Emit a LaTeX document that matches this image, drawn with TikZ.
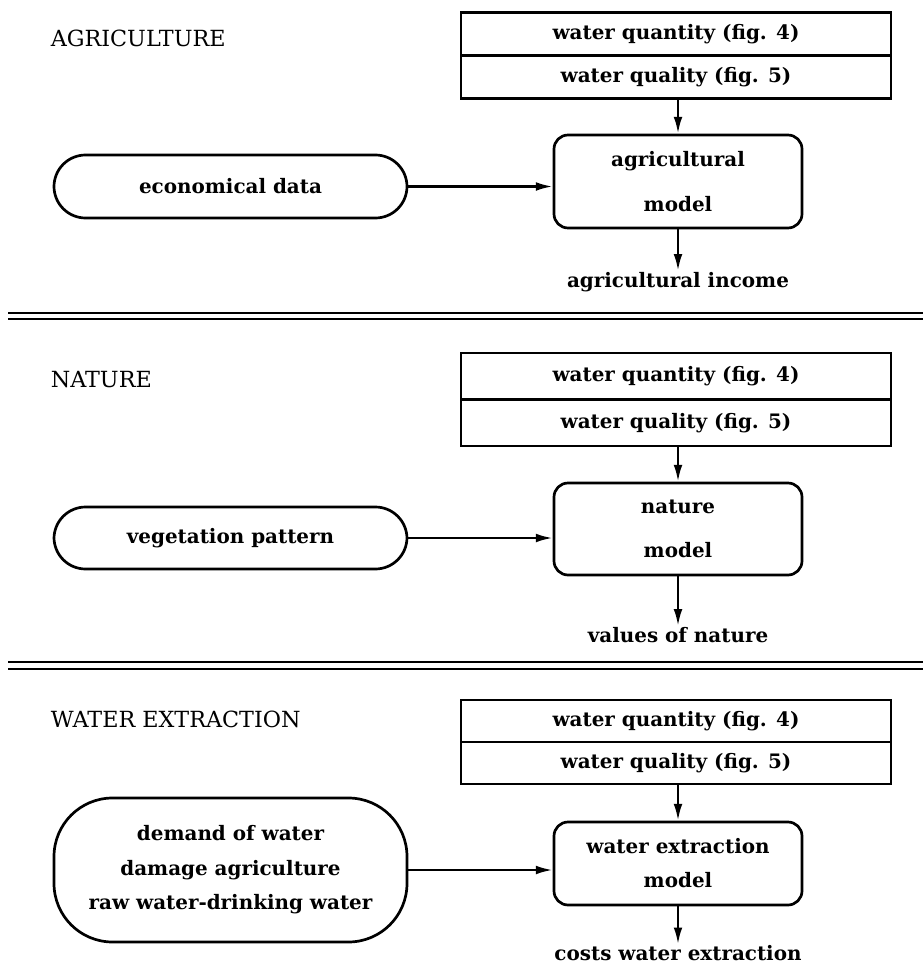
\documentclass[tikz,border=0pt]{standalone}
\usepackage{fontspec}
\setmainfont{DejaVu Serif}
\usetikzlibrary{arrows.meta,positioning}

\begin{document}
\begin{tikzpicture}[x=1cm, y=1cm,
  every node/.style={font=\bfseries\fontsize{17}{21}\selectfont},
  cell/.style={draw, line width=2.3pt, minimum width=12.9cm, minimum height=1.29cm, outer sep=0pt},
  model/.style={draw, line width=2.3pt, rounded corners=12pt, minimum width=7.44cm, align=center},
  input/.style={draw, line width=2.3pt, minimum width=10.59cm, align=center},
  sect/.style={anchor=west, font=\fontsize{19}{23}\selectfont},
  result/.style={inner sep=1pt},
  edge/.style={-{Latex[length=5mm, width=2.6mm]}, line width=2pt},
  rule/.style={line width=2.3pt}]
  \useasboundingbox (0,0) rectangle (27.69,-29.1);
  % agriculture
  \node[sect] (agri) at (1.4,-1.14) {AGRICULTURE};
  \node[cell] (qty1) at (20.28,-1.03) {water quantity (fig. 4)};
  \node[cell, below=0pt of qty1] (qual1) {water quality (fig. 5)};
  \node[model, minimum height=2.79cm] (mod1) at (20.34,-5.445) {agricultural\\[6mm]model};
  \node[input, minimum height=1.89cm, rounded corners=27pt] (eco) at (6.915,-5.595) {economical data};
  \node[result] (inc) at (20.34,-8.46) {agricultural income};
  \draw[edge] (qual1.south -| mod1) -- (mod1.north);
  \draw[edge] (eco.east) -- (eco.east -| mod1.west);
  \draw[edge] (mod1.south) -- (inc.north);
  \coordinate (r1a) at (0.24,-9.39);
  \coordinate (r1b) at (0.24,-9.57);
  \coordinate (r1c) at (27.69,-9.39);
  \coordinate (r1d) at (27.69,-9.57);
  \draw[rule] (r1a) -- (r1c);
  \draw[rule] (r1b) -- (r1d);
  % nature
  \node[sect] (nat) at (1.4,-11.4) {NATURE};
  \node[cell, minimum height=1.395cm] (qty2) at (20.28,-11.29) {water quantity (fig. 4)};
  \node[cell, minimum height=1.395cm, below=0pt of qty2] (qual2) {water quality (fig. 5)};
  \node[model, minimum height=2.76cm] (mod2) at (20.34,-15.87) {nature\\[6mm]model};
  \node[input, minimum height=1.86cm, rounded corners=27pt] (veg) at (6.915,-16.14) {vegetation pattern};
  \node[result] (val) at (20.34,-19.05) {values of nature};
  \draw[edge] (qual2.south -| mod2) -- (mod2.north);
  \draw[edge] (veg.east) -- (veg.east -| mod2.west);
  \draw[edge] (mod2.south) -- (val.north);
  \coordinate (r2a) at (0.24,-19.86);
  \coordinate (r2b) at (0.24,-20.07);
  \coordinate (r2c) at (27.69,-19.86);
  \coordinate (r2d) at (27.69,-20.07);
  \draw[rule] (r2a) -- (r2c);
  \draw[rule] (r2b) -- (r2d);
  % water extraction
  \node[sect] (wex) at (1.4,-21.57) {WATER EXTRACTION};
  \node[cell, minimum height=1.26cm] (qty3) at (20.28,-21.63) {water quantity (fig. 4)};
  \node[cell, minimum height=1.26cm, below=0pt of qty3] (qual3) {water quality (fig. 5)};
  \node[model, minimum height=2.49cm] (mod3) at (20.34,-25.905) {water extraction\\[2.8mm]model};
  \node[input, minimum height=4.32cm, rounded corners=50pt] (dem) at (6.915,-26.1)
    {demand of water\\[3mm]damage agriculture\\[3mm]raw water-drinking water};
  \node[result] (cost) at (20.34,-28.6) {costs water extraction};
  \draw[edge] (qual3.south -| mod3) -- (mod3.north);
  \draw[edge] (dem.east) -- (dem.east -| mod3.west);
  \draw[edge] (mod3.south) -- (cost.north);
\end{tikzpicture}
\end{document}
